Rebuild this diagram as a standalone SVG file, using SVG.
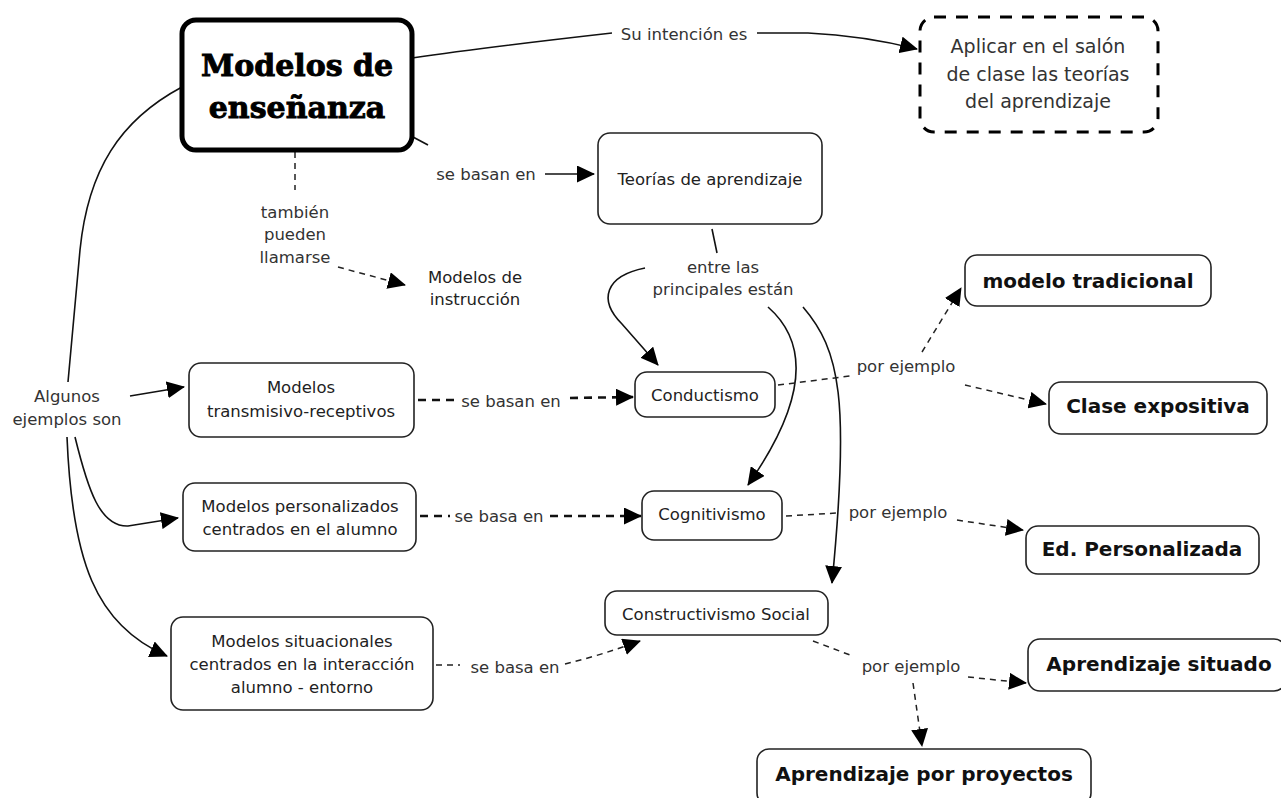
<svg xmlns="http://www.w3.org/2000/svg" width="1281" height="798" viewBox="0 0 1281 798">
<style>
.box{fill:#fff;stroke:#222;stroke-width:1.6}
.t{font-family:"DejaVu Sans",Verdana,sans-serif;font-size:16.5px;fill:#222;text-anchor:middle}
.lb{font-family:"DejaVu Sans",Verdana,sans-serif;font-size:16.5px;fill:#333;text-anchor:middle}
.b{font-family:"DejaVu Sans",Verdana,sans-serif;font-size:20px;font-weight:bold;fill:#111;text-anchor:middle}
.c{fill:none;stroke:#111;stroke-width:1.6}
.dk{fill:none;stroke:#111;stroke-width:2.6;stroke-dasharray:8 6}
.dt{fill:none;stroke:#222;stroke-width:1.5;stroke-dasharray:6 5}
.title{font-family:"DejaVu Serif",serif;font-size:30px;font-weight:bold;text-anchor:middle;fill:#000;stroke:#000;stroke-width:0.9}
</style>
<defs>
<marker id="ah" viewBox="0 0 18 17" refX="17" refY="8.5" markerWidth="18" markerHeight="17" orient="auto" markerUnits="userSpaceOnUse"><path d="M0,0 L18,8.5 L0,17 z" fill="#000"/></marker>
</defs>
<rect width="1281" height="798" fill="#fff"/>
<g id="connectors">
<path class="c" d="M412,58 C480,48 550,40 612,33"/>
<path class="c" d="M757,33 L808,33 C850,35 885,41 917,49" marker-end="url(#ah)"/>
<path class="c" d="M413,137 L428,145"/>
<path class="c" d="M545,174 L594,174" marker-end="url(#ah)"/>
<path class="c" d="M712,229 L717,253"/>
<path class="c" d="M645,268 C605,276 598,300 622,324 L658,365" marker-end="url(#ah)"/>
<path class="c" d="M768,307 C800,335 818,385 748,485" marker-end="url(#ah)"/>
<path class="c" d="M803,307 C840,350 850,400 832,583" marker-end="url(#ah)"/>
<path class="c" d="M182,87 C120,120 88,170 80,250 L68,382"/>
<path class="c" d="M130,396 L184,387" marker-end="url(#ah)"/>
<path class="c" d="M75,437 C88,490 100,527 128,526 L178,518" marker-end="url(#ah)"/>
<path class="c" d="M67,437 C72,560 95,625 167,656" marker-end="url(#ah)"/>
<path class="dt" d="M295,152 L295,190"/>
<path class="dt" d="M338,267 L405,285" marker-end="url(#ah)"/>
<path class="dk" d="M418,400 L455,400"/>
<path class="dk" d="M570,398 L633,397" marker-end="url(#ah)"/>
<path class="dk" d="M420,516 L450,516"/>
<path class="dk" d="M550,516 L641,516" marker-end="url(#ah)"/>
<path class="dt" d="M436,665 L460,665"/>
<path class="dt" d="M565,664 C590,658 615,650 640,641" marker-end="url(#ah)"/>
<path class="dt" d="M778,385 L850,376"/>
<path class="dt" d="M922,352 L961,288" marker-end="url(#ah)"/>
<path class="dt" d="M965,385 L1046,404" marker-end="url(#ah)"/>
<path class="dt" d="M786,516 L838,513"/>
<path class="dt" d="M957,520 L1023,530" marker-end="url(#ah)"/>
<path class="dt" d="M813,641 L850,655"/>
<path class="dt" d="M968,677 L1026,683" marker-end="url(#ah)"/>
<path class="dt" d="M913,683 L922,746" marker-end="url(#ah)"/>
</g>
<g id="labels">
<text class="lb" x="684" y="40">Su intención es</text>
<text class="lb" x="486" y="180">se basan en</text>
<text class="lb" x="295" y="218">también</text>
<text class="lb" x="295" y="240">pueden</text>
<text class="lb" x="295" y="263">llamarse</text>
<text class="lb" x="723" y="273">entre las</text>
<text class="lb" x="723" y="295">principales están</text>
<text class="lb" x="67" y="402">Algunos</text>
<text class="lb" x="67" y="425">ejemplos son</text>
<text class="lb" x="511" y="407">se basan en</text>
<text class="lb" x="499" y="522">se basa en</text>
<text class="lb" x="515" y="673">se basa en</text>
<text class="lb" x="906" y="372">por ejemplo</text>
<text class="lb" x="898" y="518">por ejemplo</text>
<text class="lb" x="911" y="672">por ejemplo</text>
</g>
<g id="n-main">
<rect x="182" y="20" width="230" height="130" rx="14" fill="#fff" stroke="#000" stroke-width="5"/>
<text class="title" x="297" y="76">Modelos de</text>
<text class="title" x="297" y="118">enseñanza</text>
</g>
<g id="n-aplicar">
<rect x="920" y="17" width="238" height="115" rx="14" fill="#fff" stroke="#000" stroke-width="3" stroke-dasharray="12 10"/>
<text class="t" x="1038" y="53" style="font-size:19px;fill:#333">Aplicar en el salón</text>
<text class="t" x="1038" y="81" style="font-size:19px;fill:#333">de clase las teorías</text>
<text class="t" x="1038" y="108" style="font-size:19px;fill:#333">del aprendizaje</text>
</g>
<g id="n-teorias">
<rect class="box" x="598" y="133" width="224" height="91" rx="12"/>
<text class="t" x="710" y="185">Teorías de aprendizaje</text>
</g>
<g id="n-instruccion">
<text class="t" x="475" y="283">Modelos de</text>
<text class="t" x="475" y="305">instrucción</text>
</g>
<g id="n-transmisivo">
<rect class="box" x="189" y="363" width="225" height="74" rx="12"/>
<text class="t" x="301" y="393">Modelos</text>
<text class="t" x="301" y="417">transmisivo-receptivos</text>
</g>
<g id="n-personalizados">
<rect class="box" x="183" y="483" width="233" height="68" rx="12"/>
<text class="t" x="300" y="512">Modelos personalizados</text>
<text class="t" x="300" y="535">centrados en el alumno</text>
</g>
<g id="n-situacionales">
<rect class="box" x="171" y="617" width="262" height="93" rx="12"/>
<text class="t" x="302" y="647">Modelos situacionales</text>
<text class="t" x="302" y="670">centrados en la interacción</text>
<text class="t" x="302" y="693">alumno - entorno</text>
</g>
<g id="n-conductismo">
<rect class="box" x="635" y="372" width="140" height="45" rx="12"/>
<text class="t" x="705" y="401">Conductismo</text>
</g>
<g id="n-cognitivismo">
<rect class="box" x="642" y="491" width="140" height="49" rx="12"/>
<text class="t" x="712" y="520">Cognitivismo</text>
</g>
<g id="n-constructivismo">
<rect class="box" x="605" y="591" width="223" height="44" rx="12"/>
<text class="t" x="716" y="620">Constructivismo Social</text>
</g>
<g id="n-tradicional">
<rect class="box" x="965" y="255" width="246" height="51" rx="12"/>
<text class="b" x="1088" y="288">modelo tradicional</text>
</g>
<g id="n-expositiva">
<rect class="box" x="1049" y="382" width="218" height="52" rx="12"/>
<text class="b" x="1158" y="413">Clase expositiva</text>
</g>
<g id="n-edpers">
<rect class="box" x="1026" y="526" width="233" height="48" rx="12"/>
<text class="b" x="1142" y="556">Ed. Personalizada</text>
</g>
<g id="n-situado">
<rect class="box" x="1028" y="639" width="258" height="52" rx="12"/>
<text class="b" x="1159" y="671">Aprendizaje situado</text>
</g>
<g id="n-proyectos">
<rect class="box" x="757" y="749" width="334" height="56" rx="12"/>
<text class="b" x="924" y="781">Aprendizaje por proyectos</text>
</g>
</svg>
